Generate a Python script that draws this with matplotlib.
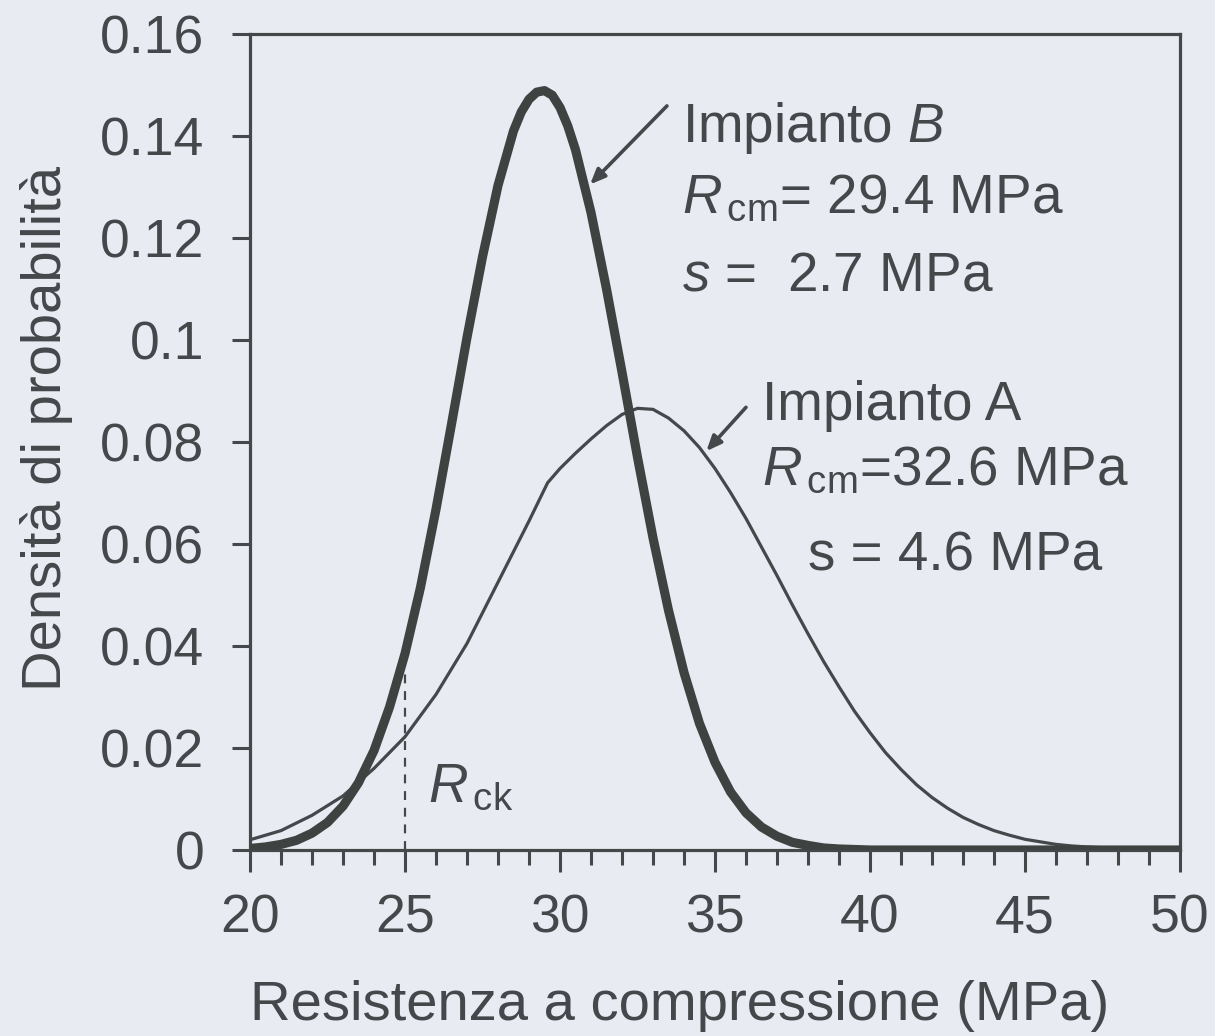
import matplotlib
matplotlib.use("Agg")
import matplotlib.pyplot as plt
from matplotlib.ticker import MultipleLocator, FuncFormatter

# ---- data ----
x_B = [20, 20.5, 21, 21.5, 22, 22.5, 23, 23.5, 24, 24.5, 25, 25.5, 26, 26.5, 27, 27.5,
       28, 28.5, 28.75, 29, 29.25, 29.5, 29.75, 30, 30.25, 30.5, 31, 31.5, 32, 32.5, 33,
       33.5, 34, 34.5, 35, 35.5, 36, 36.5, 37, 37.5, 38, 38.5, 39, 40, 50]
y_B = [0.0003, 0.0006, 0.0011, 0.0019, 0.0033, 0.0054, 0.0086, 0.0132, 0.0195, 0.0280,
       0.0385, 0.0515, 0.0668, 0.0835, 0.1005, 0.1163, 0.1303, 0.1410, 0.1447, 0.1472,
       0.1486, 0.1489, 0.1480, 0.1456, 0.1420, 0.1373, 0.1250, 0.1100, 0.0937, 0.0770,
       0.0612, 0.0470, 0.0348, 0.0248, 0.0172, 0.0114, 0.0073, 0.0045, 0.0027, 0.0015,
       0.0009, 0.0004, 0.0002, 0.0, 0.0]

x_A = [20, 21, 22, 23, 24, 25, 26, 27, 28, 29, 29.6, 30, 30.5, 31, 31.5, 32, 32.5, 33,
       33.5, 34, 34.5, 35, 35.5, 36, 36.5, 37, 37.5, 38, 38.5, 39, 39.5, 40, 40.5, 41,
       41.5, 42, 42.5, 43, 43.5, 44, 44.5, 45, 45.5, 46, 46.5, 47, 48, 50]
y_A = [0.0020, 0.0038, 0.0068, 0.0106, 0.0160, 0.0222, 0.0305, 0.0405, 0.0525, 0.0645,
       0.0720, 0.0748, 0.0778, 0.0806, 0.0832, 0.0854, 0.0866, 0.0864, 0.0847, 0.0822,
       0.0789, 0.0748, 0.0701, 0.0650, 0.0594, 0.0538, 0.0480, 0.0424, 0.0370, 0.0320,
       0.0272, 0.0230, 0.0191, 0.0158, 0.0128, 0.0103, 0.0082, 0.0064, 0.0050, 0.0038,
       0.0029, 0.0021, 0.0016, 0.0011, 0.0008, 0.0006, 0.0003, 0.0]

R_ck = 25
R_ck_top = 0.036

x_ticks = [20, 25, 30, 35, 40, 45, 50]
y_ticks = [0, 0.02, 0.04, 0.06, 0.08, 0.1, 0.12, 0.14, 0.16]

# ---- style ----
BG = '#e8ebf1'
INK = '#45484b'
plt.rcParams['font.family'] = ['Liberation Sans', 'DejaVu Sans']
plt.rcParams['mathtext.fontset'] = 'custom'
plt.rcParams['mathtext.rm'] = 'Liberation Sans'
plt.rcParams['mathtext.it'] = 'Liberation Sans:italic'
FS_TICK = 38.5
FS_TXT = 39.5
FS_LAB = 40.5

W, H = 1215, 1036
fig = plt.figure(figsize=(W / 100, H / 100), dpi=100, facecolor=BG)
ax = fig.add_axes([250 / W, 1 - 850 / H, 930 / W, 816 / H], facecolor=BG)

ax.plot(x_A, y_A, color=INK, lw=2.3, solid_joinstyle='round', zorder=3)
ax.plot(x_B, y_B, color='#3e4341', lw=6.6, solid_joinstyle='round',
        solid_capstyle='round', zorder=4)
ax.plot([R_ck, R_ck], [0, R_ck_top], color=INK, lw=1.6, ls=(0, (4, 3.5)), zorder=2)

ax.set_xlim(20, 50)
ax.set_ylim(0, 0.16)
ax.set_xticks(x_ticks)
ax.set_yticks(y_ticks)
ax.xaxis.set_minor_locator(MultipleLocator(1))
ax.yaxis.set_major_formatter(FuncFormatter(lambda v, p: '%g' % round(v, 2)))
ax.tick_params(axis='both', which='major', direction='out', width=2.2, color=INK,
               labelsize=FS_TICK, labelcolor=INK)
ax.tick_params(axis='x', which='major', length=16, pad=15)
ax.tick_params(axis='x', which='minor', length=10.5, width=2.2, color=INK, direction='out')
ax.tick_params(axis='y', which='major', length=13, pad=20)
for s in ax.spines.values():
    s.set_linewidth(2.3)
    s.set_color(INK)

fig.text(680 / W, 1 - 1020 / H, 'Resistenza a compressione (MPa)', fontsize=FS_LAB,
         color=INK, ha='center', va='baseline')
fig.text(47 / W, 1 - 428 / H, 'Densità di probabilità', fontsize=FS_LAB, color=INK,
         ha='center', va='center', rotation=90)

# annotations
arrow_style = dict(arrowstyle='-|>,head_length=0.9,head_width=0.38', color=INK, lw=2.6,
                   shrinkA=0, shrinkB=0)
ax.annotate('', xy=(30.97, 0.1305), xytext=(33.45, 0.1459), arrowprops=arrow_style)
ax.annotate('', xy=(34.72, 0.0782), xytext=(36.0, 0.0868), arrowprops=arrow_style)

ax.text(33.94, 0.1388, r'Impianto $\mathit{B}$', fontsize=FS_TXT, color=INK,
        va='baseline', ha='left')
ax.text(33.94, 0.1249, r'$\mathit{R}_{\,\mathrm{cm}}$= 29.4 MPa', fontsize=FS_TXT, color=INK,
        va='baseline', ha='left')
ax.text(33.94, 0.1098, r'$\mathit{s}$ =  2.7 MPa', fontsize=FS_TXT, color=INK,
        va='baseline', ha='left')

ax.text(36.52, 0.0843, 'Impianto A', fontsize=FS_TXT, color=INK, va='baseline', ha='left')
ax.text(36.52, 0.0716, r'$\mathit{R}_{\,\mathrm{cm}}$=32.6 MPa', fontsize=FS_TXT, color=INK,
        va='baseline', ha='left')
ax.text(38.0, 0.0549, 's = 4.6 MPa', fontsize=FS_TXT, color=INK, va='baseline', ha='left')

ax.text(25.75, 0.0094, r'$\mathit{R}_{\,\mathrm{ck}}$', fontsize=FS_TXT, color=INK,
        va='baseline', ha='left')

fig.savefig('out.png', dpi=100, facecolor=BG)
